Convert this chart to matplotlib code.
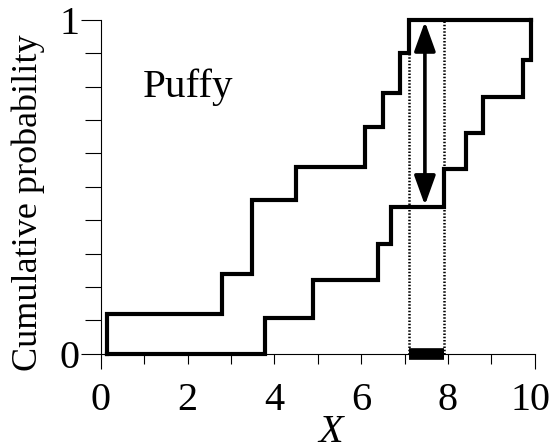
import matplotlib
matplotlib.use("Agg")
import matplotlib.pyplot as plt
from matplotlib.ticker import FixedLocator, FuncFormatter
from matplotlib.patches import FancyArrowPatch
from matplotlib.transforms import ScaledTranslation

# step curves
x_start = 0.15
jumps_a = [0.15, 2.79, 3.49, 4.50, 6.09, 6.50, 6.90, 7.10]
levels_a = [0.12, 0.24, 0.46, 0.56, 0.68, 0.78, 0.90, 1.0]
x_end = 9.91
jumps_b = [3.79, 4.90, 6.40, 6.70, 7.90, 8.42, 8.82, 9.72, 9.91]
levels_b = [0.108, 0.221, 0.329, 0.44, 0.553, 0.66, 0.77, 0.88, 1.0]

# max difference interval
d_lo, d_hi = 7.10, 7.90
arrow_x = 7.47
arrow_top, arrow_bottom = 0.995, 0.445

label_text = "Puffy"
x_major = [0, 10]
x_minor = [1, 2, 3, 4, 5, 6, 7, 8, 9]
x_minor_labels = {2: "2", 4: "4", 6: "6", 8: "8"}
y_major = [0, 1]
y_minor = [0.1, 0.2, 0.3, 0.4, 0.5, 0.6, 0.7, 0.8, 0.9]

serif = ["Liberation Serif", "DejaVu Serif"]
plt.rcParams["font.family"] = serif

W, H = 552, 444
fig = plt.figure(figsize=(W / 100, H / 100), dpi=100)
ax = fig.add_axes([100.7 / W, 1 - 353.7 / H, 434 / W, 333.7 / H])

xa = [x_start] + jumps_a + [x_end]
ya = [0] + levels_a + [levels_a[-1]]
xb = [x_start] + jumps_b
yb = [0] + levels_b

ax.step(xa, ya, where="post", color="black", lw=3.0, clip_on=False,
        solid_joinstyle="miter", zorder=3)
ax.step(xb, yb, where="post", color="black", lw=3.0, clip_on=False,
        solid_joinstyle="miter", zorder=3)

for xv in (d_lo, d_hi):
    ax.plot([xv, xv], [0, 1], color="black", lw=1.8,
            linestyle=(0, (0.6, 0.7)), clip_on=False, zorder=2)

ax.plot([d_lo, d_hi], [0, 0], color="black", lw=8.4,
        solid_capstyle="butt", clip_on=False, zorder=4)

arr = FancyArrowPatch((arrow_x, arrow_bottom), (arrow_x, arrow_top),
                      arrowstyle="<|-|>,head_length=18,head_width=6.5",
                      mutation_scale=1, lw=2.6, color="black",
                      shrinkA=0, shrinkB=0, clip_on=False, zorder=5)
ax.add_patch(arr)

ax.text(0.97, 0.77, label_text, fontsize=29.5, va="baseline", ha="left")

ax.set_xlim(0, 10)
ax.set_ylim(0, 1)
for s in ("top", "right"):
    ax.spines[s].set_visible(False)
for s in ("left", "bottom"):
    ax.spines[s].set_linewidth(0.8)

ax.xaxis.set_major_locator(FixedLocator(x_major))
ax.xaxis.set_minor_locator(FixedLocator(x_minor))
ax.xaxis.set_major_formatter(FuncFormatter(lambda v, p: "%d" % v))
ax.xaxis.set_minor_formatter(FuncFormatter(lambda v, p: x_minor_labels.get(int(round(v)), "")))
ax.yaxis.set_major_locator(FixedLocator(y_major))
ax.yaxis.set_minor_locator(FixedLocator(y_minor))
ax.yaxis.set_major_formatter(FuncFormatter(lambda v, p: "%d" % v))

ax.tick_params(axis="x", which="major", direction="out", length=10.8, width=0.8,
               pad=9.4, labelsize=29)
ax.tick_params(axis="x", which="minor", direction="out", length=7.2, width=0.8,
               pad=13.0, labelsize=29)
ax.tick_params(axis="y", which="major", direction="out", length=14.4, width=0.8,
               pad=1.0, labelsize=29)
ax.tick_params(axis="y", which="minor", direction="out", length=11.5, width=0.8)

# the "10" label sits a little left of its tick in the reference
fig.canvas.draw()
last = ax.xaxis.get_major_ticks()[-1]
last.label1.set_transform(last.label1.get_transform()
                          + ScaledTranslation(-4.5 / 100, 0, fig.dpi_scale_trans))

fig.text(28 / W, 1 - 202.5 / H, "Cumulative probability", fontsize=26,
         rotation=90, ha="center", va="center")
fig.text(331 / W, 1 - 414 / H, "X", fontsize=29, style="italic",
         ha="center", va="top")

fig.savefig("out.png", dpi=100)
